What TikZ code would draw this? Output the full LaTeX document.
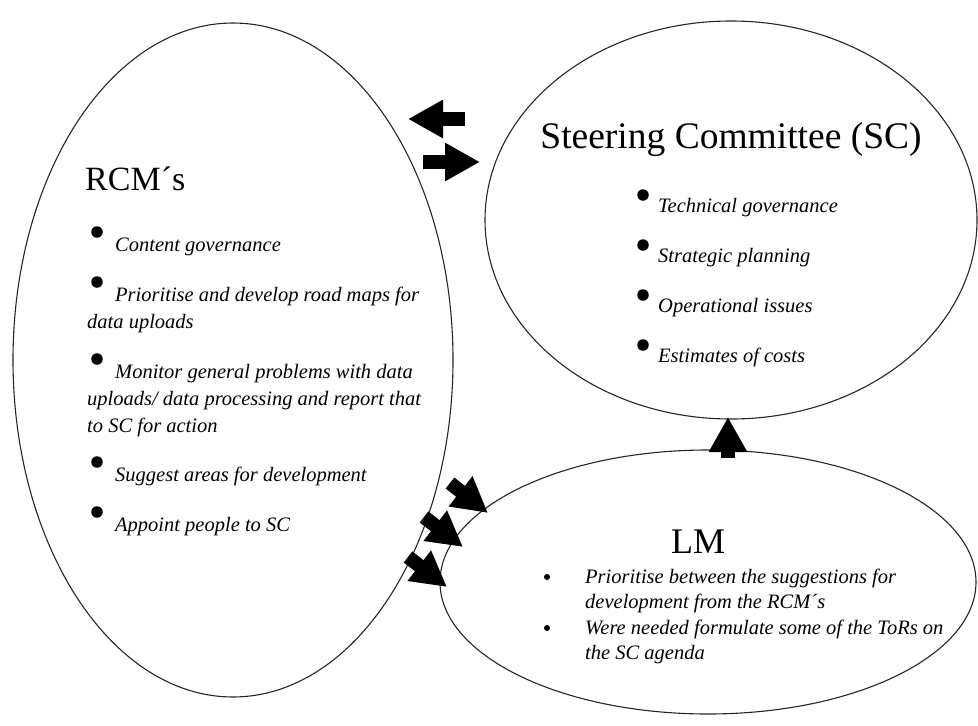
\documentclass[tikz,border=0pt]{standalone}
\usepackage{fontspec}
\setmainfont{Liberation Serif}
\usetikzlibrary{arrows.meta}
\begin{document}
\begin{tikzpicture}[x=1pt,y=-1pt,
  oval/.style={draw=black!85, line width=1.1pt},
  heading/.style={inner sep=0pt, font=\fontsize{36}{40}\selectfont},
  item/.style={anchor=base west, inner sep=0pt, font=\fontsize{20.5}{25}\selectfont\itshape},
  dot/.style={circle, fill=black, inner sep=0pt, minimum size=11.5pt},
  smalldot/.style={circle, fill=black, inner sep=0pt, minimum size=6pt},
  blockarrow/.style={line width=14pt, -{Triangle[width=36pt, length=35pt]}, black},
]
\useasboundingbox (0,0) rectangle (978,726);

% the three groups
\draw[oval] (233,360) ellipse [x radius=220, y radius=337];
\draw[oval] (731,220) ellipse [x radius=246, y radius=199];
\draw[oval] (708,582) ellipse [x radius=268, y radius=132];

% RCM's
\node[heading, anchor=base west, font=\fontsize{34}{40}\selectfont] (rcm) at (85,190) {RCM´s};
\node[dot] (r1) at (97,232) {};
\node[item] (r1t) at (115,251) {Content governance};
\node[dot] (r2) at (97,282) {};
\node[item] (r2t) at (115,301) {Prioritise and develop road maps for};
\node[item] (r2u) at (87,328) {data uploads};
\node[dot] (r3) at (97,359) {};
\node[item] (r3t) at (115,378) {Monitor general problems with data};
\node[item] (r3u) at (87,405) {uploads/ data processing and report that};
\node[item] (r3v) at (87,432) {to SC for action};
\node[dot] (r4) at (97,462) {};
\node[item] (r4t) at (115,481) {Suggest areas for development};
\node[dot] (r5) at (97,512) {};
\node[item] (r5t) at (115,531) {Appoint people to SC};

% Steering Committee
\node[heading, anchor=base, font=\fontsize{37.5}{42}\selectfont] (sc) at (731,148) {Steering Committee (SC)};
\node[dot] (s1) at (643,195) {};
\node[item] (s1t) at (658,212) {Technical governance};
\node[dot] (s2) at (643,245) {};
\node[item] (s2t) at (658,262) {Strategic planning};
\node[dot] (s3) at (643,295) {};
\node[item] (s3t) at (658,312) {Operational issues};
\node[dot] (s4) at (643,345) {};
\node[item] (s4t) at (658,362) {Estimates of costs};

% LM
\node[heading, anchor=base] (lm) at (698,553) {LM};
\node[smalldot] (l1) at (547,577) {};
\node[item] (l1t) at (585,583) {Prioritise between the suggestions for};
\node[item] (l1u) at (585,608) {development from the RCM´s};
\node[smalldot] (l2) at (547,628) {};
\node[item] (l2t) at (585,634) {Were needed formulate some of the ToRs on};
\node[item] (l2u) at (585,659) {the SC agenda};

% block arrows between the groups
\coordinate (a1s) at (465,119); \coordinate (a1e) at (408,119);
\coordinate (a2s) at (423,162); \coordinate (a2e) at (480,162);
\coordinate (a3s) at (728,458); \coordinate (a3e) at (728,417);
\coordinate (a4s) at (450,483); \coordinate (a4e) at (488,513);
\coordinate (a5s) at (424,517); \coordinate (a5e) at (463,547);
\coordinate (a6s) at (408,557); \coordinate (a6e) at (447,587);
\draw[blockarrow] (a1s) -- (a1e);
\draw[blockarrow] (a2s) -- (a2e);
\draw[blockarrow] (a3s) -- (a3e);
\draw[blockarrow] (a4s) -- (a4e);
\draw[blockarrow] (a5s) -- (a5e);
\draw[blockarrow] (a6s) -- (a6e);
\end{tikzpicture}
\end{document}
